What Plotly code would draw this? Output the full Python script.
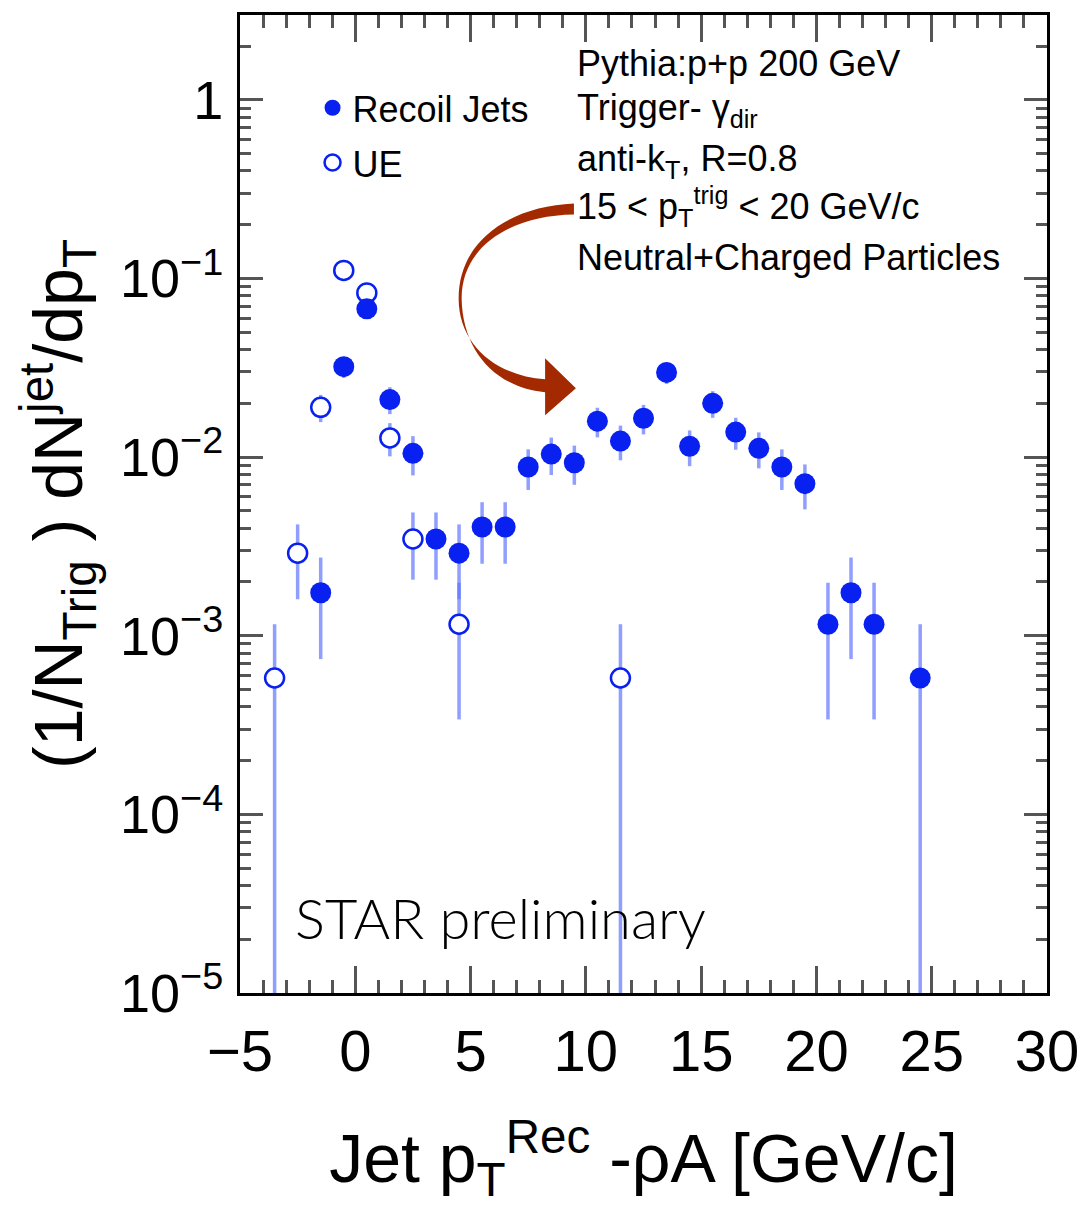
import plotly.graph_objects as go

# ---------------- data ----------------
recoil_x = [-1.5, -0.5, 0.5, 1.5, 2.5, 3.5, 4.5, 5.5, 6.5, 7.5, 8.5, 9.5, 10.5,
            11.5, 12.5, 13.5, 14.5, 15.5, 16.5, 17.5, 18.5, 19.5, 20.5, 21.5, 22.5, 24.5]
recoil_y = [1.74e-3, 0.0321, 0.0676, 0.0210, 0.0105, 3.48e-3, 2.9e-3, 4.06e-3, 4.06e-3,
            8.8e-3, 1.04e-2, 9.3e-3, 0.0159, 0.0123, 0.0165, 0.0298, 0.0115, 0.0200,
            0.0138, 0.0112, 8.8e-3, 7.1e-3, 1.16e-3, 1.74e-3, 1.16e-3, 5.8e-4]
recoil_err = [1.0e-3, 4.3e-3, 6.3e-3, 3.6e-3, 2.6e-3, 1.42e-3, 1.3e-3, 1.53e-3, 1.53e-3,
              2.25e-3, 2.46e-3, 2.3e-3, 3.0e-3, 2.7e-3, 3.1e-3, 4.1e-3, 2.6e-3, 3.4e-3,
              2.8e-3, 2.55e-3, 2.25e-3, 2.0e-3, 8.2e-4, 1.0e-3, 8.2e-4, 5.8e-4]

ue_x = [-3.5, -2.5, -1.5, -0.5, 0.5, 1.5, 2.5, 4.5, 11.5]
ue_y = [5.8e-4, 2.9e-3, 0.019, 0.111, 0.083, 0.0128, 3.48e-3, 1.16e-3, 5.8e-4]
ue_err = [5.8e-4, 1.3e-3, 3.3e-3, 8.0e-3, 6.9e-3, 2.7e-3, 1.42e-3, 8.2e-4, 5.8e-4]

x_tick_vals = [-5, 0, 5, 10, 15, 20, 25, 30]
y_tick_vals = [1e-5, 1e-4, 1e-3, 1e-2, 1e-1, 1]
y_tick_text = ["10<sup>−5</sup>", "10<sup>−4</sup>", "10<sup>−3</sup>",
               "10<sup>−2</sup>", "10<sup>−1</sup>", "1"]
info_lines = [
    "Pythia:p+p 200 GeV",
    "Trigger- γ<sub>dir</sub>",
    "anti-k<sub>T</sub>, R=0.8",
    "15 &lt; p<sub>T</sub><sup>trig</sup> &lt; 20 GeV/c",
    "Neutral+Charged Particles",
]

# ---------------- layout geometry ----------------
W, H = 1091, 1216
L, R, T, B = 240, 1052, 13, 993
FONT = "Liberation Sans, Arial, Helvetica, sans-serif"
BLUE = "#0820f0"
ERR = "rgba(100,120,255,0.72)"


def px(xp):
    return (xp - L) / (R - L)


def py(yp):
    return (B - yp) / (B - T)


fig = go.Figure()

fig.add_trace(go.Scatter(
    x=ue_x, y=ue_y, mode="markers", name="UE", legendrank=2, legendgroup="ue",
    marker=dict(symbol="circle", size=19, color="white",
                line=dict(color=BLUE, width=2.5)),
    error_y=dict(type="data", array=ue_err, symmetric=True, color=ERR,
                 thickness=3.5, width=0),
))
fig.add_trace(go.Scatter(
    x=recoil_x, y=recoil_y, mode="markers", name="Recoil Jets", legendrank=1,
    legendgroup="rj",
    marker=dict(symbol="circle", size=21, color=BLUE, line=dict(width=0)),
    error_y=dict(type="data", array=recoil_err, symmetric=True, color=ERR,
                 thickness=3.5, width=0),
))

# annotations: info box
ann = []
line_y = [62, 108, 159, 205, 256]
for txt, yy in zip(info_lines, line_y):
    ann.append(dict(xref="paper", yref="paper", x=px(577), y=py(yy), text=txt,
                    showarrow=False, xanchor="left", yanchor="middle",
                    font=dict(family=FONT, size=36, color="black")))
ann.append(dict(xref="paper", yref="paper", x=px(293), y=py(917),
                text="STAR preliminary", showarrow=False,
                xanchor="left", yanchor="middle",
                font=dict(family="Lato, Roboto, Open Sans, sans-serif",
                          size=56, color="black", weight=300)))

# curved arrow (decorative)
pts = [
    ("M", [(576, 202)]),
    ("C", [(510, 205), (460, 240), (460, 297)]),
    ("C", [(460, 345), (500, 375), (547, 378)]),
    ("L", [(547, 357)]),
    ("L", [(578, 387)]),
    ("L", [(547, 414)]),
    ("L", [(547, 391)]),
    ("C", [(497, 386), (464, 350), (463, 297)]),
    ("C", [(463, 245), (512, 214), (576, 213)]),
]
path = ""
for cmd, cs in pts:
    path += cmd + " " + " ".join(f"{px(a):.5f},{py(b):.5f}" for a, b in cs) + " "
path += "Z"
shapes = [dict(type="path", xref="paper", yref="paper", path=path,
               fillcolor="#a32a00", line=dict(width=0))]

axis_common = dict(
    showline=True, linecolor="black", linewidth=3, mirror="ticks",
    ticks="inside", tickcolor="#555", tickwidth=2.5,
    showgrid=False, zeroline=False,
)

fig.update_layout(
    width=W, height=H,
    margin=dict(l=L, r=W - R, t=T, b=H - B),
    paper_bgcolor="white", plot_bgcolor="white",
    showlegend=True,
    legend=dict(x=px(313), y=py(76), xanchor="left", yanchor="top",
                bgcolor="rgba(0,0,0,0)", font=dict(family=FONT, size=36, color="black"),
                itemsizing="trace", tracegroupgap=5, traceorder="grouped"),
    annotations=ann,
    shapes=shapes,
    xaxis=dict(
        range=[-5, 30], tickvals=x_tick_vals, ticklen=27,
        minor=dict(dtick=1, ticks="inside", ticklen=13, tickcolor="#555", tickwidth=2.5),
        ticklabelstandoff=5,
        tickfont=dict(family=FONT, size=58, color="black"),
        title=dict(text="Jet p<sub>T</sub><sup>Rec</sup> -ρA [GeV/c]",
                   font=dict(family=FONT, size=68, color="black"), standoff=53),
        **axis_common,
    ),
    yaxis=dict(
        type="log", range=[-5, 0.475], tickvals=y_tick_vals, ticktext=y_tick_text,
        ticklen=23,
        minor=dict(dtick="D1", ticks="inside", ticklen=11, tickcolor="#555", tickwidth=2.5),
        ticklabelstandoff=3,
        tickfont=dict(family=FONT, size=54, color="black"),
        title=dict(text="(1/N<sub>Trig</sub> ) dN<sup>jet</sup>/dp<sub>T</sub>",
                   font=dict(family=FONT, size=68, color="black"), standoff=16),
        **axis_common,
    ),
)

fig.write_html("out.html")
